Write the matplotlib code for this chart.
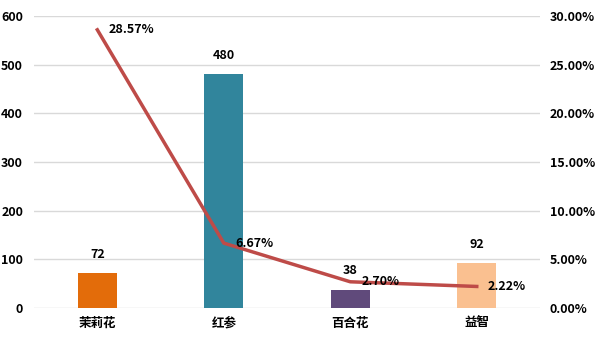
import matplotlib
matplotlib.use("Agg")
import matplotlib.pyplot as plt
from matplotlib.ticker import FuncFormatter

plt.rcParams['font.family'] = ['Noto Sans CJK SC', 'DejaVu Sans']

categories = ['茉莉花', '红参', '百合花', '益智']
counts = [72, 480, 38, 92]
rates = [0.2857, 0.0667, 0.0270, 0.0222]
rate_labels = ['28.57%', '6.67%', '2.70%', '2.22%']
bar_colors = ['#E36C0A', '#31859C', '#604A7B', '#FAC090']
line_color = '#BE4B48'

fig = plt.figure(figsize=(5.98, 3.45), dpi=100)
ax = fig.add_axes([0.057, 0.107, 0.846, 0.847])
ax2 = ax.twinx()

x = list(range(len(categories)))
ax.bar(x, counts, width=0.31, color=bar_colors, zorder=2)
ax.set_ylim(0, 600)
ax.set_yticks(range(0, 601, 100))
ax.set_xlim(-0.5, 3.5)
ax.set_xticks(x)
ax.set_xticklabels(categories, fontsize=9.5, fontweight='bold')
ax.yaxis.grid(True, color='#D9D9D9', linewidth=1, zorder=0)
ax.set_axisbelow(True)
for s in ax.spines.values():
    s.set_visible(False)
for s in ax2.spines.values():
    s.set_visible(False)
ax.tick_params(axis='both', length=0, labelsize=9)
ax.tick_params(axis='y', pad=8)
ax.tick_params(axis='x', pad=6)
for lbl in ax.get_yticklabels():
    lbl.set_fontweight('bold')

for xi, v in zip(x, counts):
    ax.annotate(str(v), (xi, v), xytext=(0, 9), textcoords='offset points',
                ha='center', va='bottom', fontsize=9, fontweight='bold', color='#000000')

ax2.plot(x, rates, color=line_color, linewidth=2.5, zorder=3)
ax2.set_ylim(0, 0.30)
ax2.set_yticks([0, 0.05, 0.10, 0.15, 0.20, 0.25, 0.30])
ax2.yaxis.set_major_formatter(FuncFormatter(lambda v, p: f'{v*100:.2f}%'))
ax2.tick_params(axis='y', length=0, labelsize=9, pad=7)
for lbl in ax2.get_yticklabels():
    lbl.set_fontweight('bold')

for xi, v, t in zip(x, rates, rate_labels):
    ax2.annotate(t, (xi, v), xytext=(8, 0), textcoords='offset points',
                 ha='left', va='center', fontsize=9, fontweight='bold', color='#000000')

fig.savefig('out.png', dpi=100)
